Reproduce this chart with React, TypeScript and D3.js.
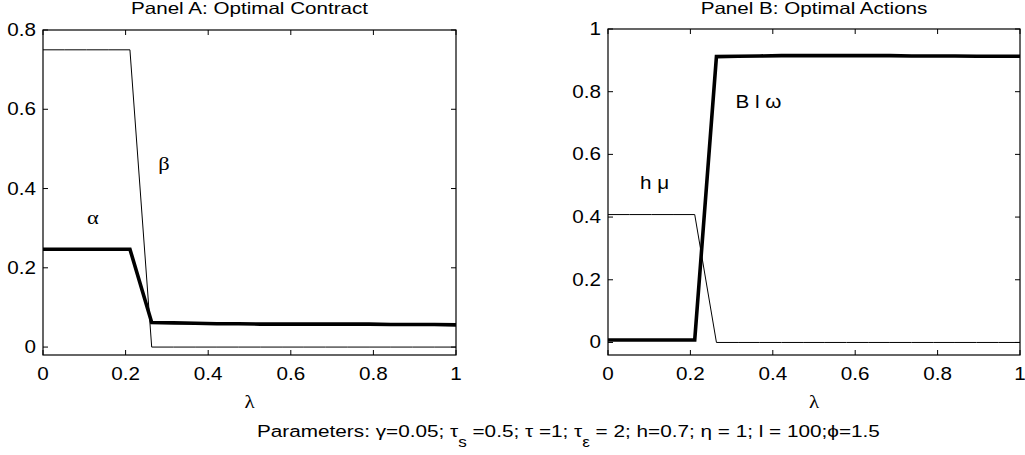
import React from 'react';
import * as d3 from 'd3';

// lambda grid used by the model (20 points)
const lambda = [0, 0.0526, 0.1053, 0.1579, 0.2105, 0.2632, 0.3158, 0.3684, 0.4211, 0.4737,
  0.5263, 0.5789, 0.6316, 0.6842, 0.7368, 0.7895, 0.8421, 0.8947, 0.9474, 1];

// Panel A: optimal contract
const alpha = [0.247, 0.247, 0.247, 0.247, 0.247, 0.062, 0.061, 0.060, 0.059, 0.059,
  0.058, 0.058, 0.058, 0.058, 0.058, 0.058, 0.057, 0.057, 0.057, 0.056];
const beta = [0.75, 0.75, 0.75, 0.75, 0.75, 0, 0, 0, 0, 0, 0, 0, 0, 0, 0, 0, 0, 0, 0, 0];

// Panel B: optimal actions
const hMu = [0.408, 0.408, 0.408, 0.408, 0.408, 0, 0, 0, 0, 0, 0, 0, 0, 0, 0, 0, 0, 0, 0, 0];
const bOmega = [0.008, 0.008, 0.008, 0.008, 0.008, 0.912, 0.913, 0.914, 0.915, 0.915,
  0.915, 0.915, 0.915, 0.915, 0.914, 0.914, 0.914, 0.913, 0.913, 0.913];

const xTicks = [0, 0.2, 0.4, 0.6, 0.8, 1];
const yTicksA = [0, 0.2, 0.4, 0.6, 0.8];
const yTicksB = [0, 0.2, 0.4, 0.6, 0.8, 1];

const FONT = '"Liberation Sans", Arial, Helvetica, sans-serif';
const SERIF = '"Liberation Serif", "Times New Roman", serif';
const SX = 1.18; // text in the original is a bit stretched horizontally

const T = ({ x, y, size, anchor = 'middle', sx = SX, family = FONT, children }: any) => (
  <text
    transform={`translate(${x},${y}) scale(${sx},1)`}
    fontFamily={family}
    fontSize={size}
    textAnchor={anchor}
    fill="#000"
  >
    {children}
  </text>
);

const Panel = ({ left, right, top, bottom, yDomain, yTicks, title, series, labels }: any) => {
  const x = d3.scaleLinear().domain([0, 1]).range([left, right]);
  const y = d3.scaleLinear().domain(yDomain).range([bottom, top]);
  const tick = 5;
  const mid = (left + right) / 2;

  return (
    <g>
      <T x={mid} y={14} size={16.5} sx={1.25}>{title}</T>
      {series.map((s: any, i: number) => {
        const line = d3.line<number>()
          .x((_, j) => x(lambda[j]))
          .y((d) => y(d));
        return (
          <path key={i} d={line(s.values) || ''} fill="none" stroke="#000"
            strokeWidth={s.width} strokeLinejoin="miter" />
        );
      })}
      <rect x={left} y={top} width={right - left} height={bottom - top}
        fill="none" stroke="#000" strokeWidth={1.2} />
      {xTicks.map((t) => (
        <g key={'x' + t}>
          <line x1={x(t)} x2={x(t)} y1={bottom} y2={bottom - tick} stroke="#000" />
          <line x1={x(t)} x2={x(t)} y1={top} y2={top + tick} stroke="#000" />
          <T x={x(t)} y={380} size={17.5}>{String(t)}</T>
        </g>
      ))}
      {yTicks.map((t: number) => (
        <g key={'y' + t}>
          <line x1={left} x2={left + tick} y1={y(t)} y2={y(t)} stroke="#000" />
          <line x1={right} x2={right - tick} y1={y(t)} y2={y(t)} stroke="#000" />
          <T x={left - 7} y={y(t) + 6} size={17.5} anchor="end">{String(t)}</T>
        </g>
      ))}
      <T x={mid} y={408} size={19} family={SERIF} sx={1.1}>λ</T>
      {labels.map((l: any) => (
        <T key={l.text} x={x(l.at[0])} y={y(l.at[1])} size={l.size || 17.5} family={l.family || FONT}>{l.text}</T>
      ))}
    </g>
  );
};

export default function App() {
  return (
    <svg width={1025} height={455} viewBox="0 0 1025 455"
      style={{ position: 'absolute', left: 0, top: 0, display: 'block', background: '#fff' }}>
      <rect width={1025} height={455} fill="#fff" />
      <Panel
        left={43} right={456} top={30} bottom={355}
        yDomain={[-0.02, 0.8]} yTicks={yTicksA}
        title="Panel A: Optimal Contract"
        series={[{ values: beta, width: 1 }, { values: alpha, width: 3.6 }]}
        labels={[
          { text: 'α', at: [0.121, 0.31], family: SERIF, size: 19 },
          { text: 'β', at: [0.293, 0.447], family: SERIF, size: 19 },
        ]}
      />
      <Panel
        left={608} right={1020} top={29} bottom={355}
        yDomain={[-0.04, 1]} yTicks={yTicksB}
        title="Panel B: Optimal Actions"
        series={[{ values: hMu, width: 1 }, { values: bOmega, width: 3.6 }]}
        labels={[
          { text: 'h μ', at: [0.113, 0.49] },
          { text: 'B l ω', at: [0.365, 0.748] },
        ]}
      />
      <text transform="translate(257,437) scale(1.22,1)" fontFamily={FONT} fontSize={17} fill="#000">
        Parameters: γ=0.05; τ<tspan dy={10} fontSize={14}>s</tspan>
        <tspan dy={-10}> =0.5; τ =1; τ</tspan>
        <tspan dy={10} fontSize={14}>ε</tspan>
        <tspan dy={-10}> = 2; h=0.7; η = 1; l = 100;ϕ=1.5</tspan>
      </text>
    </svg>
  );
}
